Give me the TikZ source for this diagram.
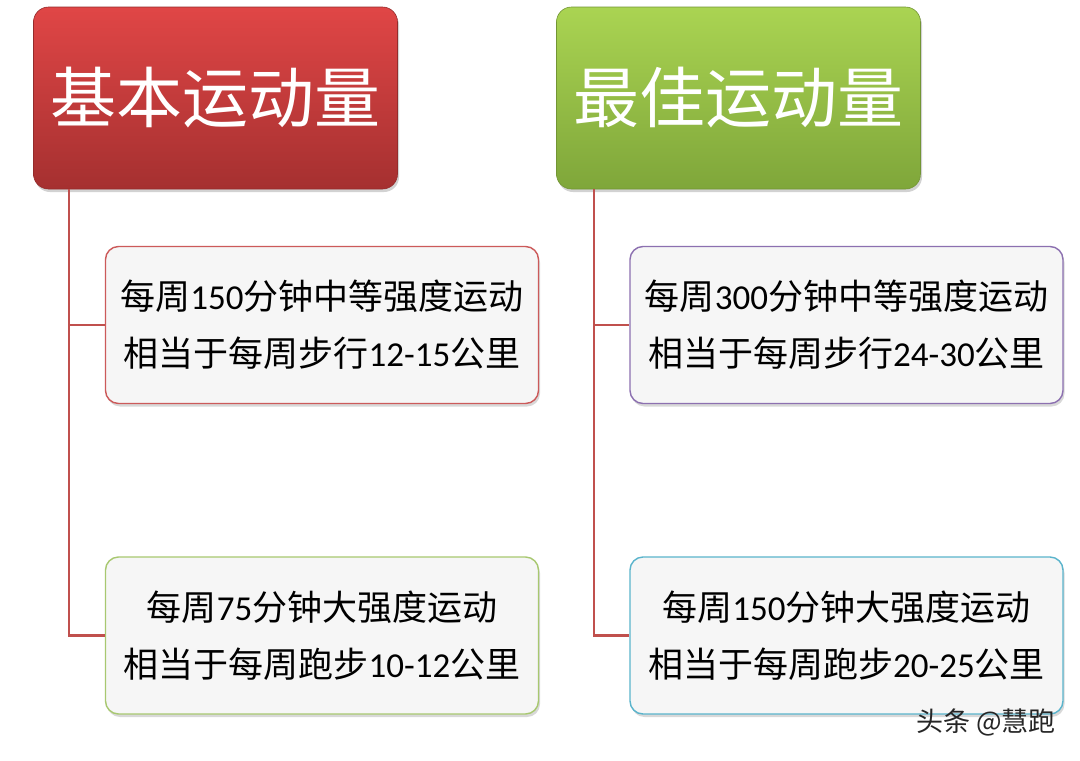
\documentclass[tikz,border=0pt]{standalone}
\usepackage{fontspec}
\setmainfont{Carlito}
\newfontfamily\cjk{Noto Sans CJK SC}
\usetikzlibrary{shadows}
\newcommand{\zh}[1]{{\cjk #1}}
\definecolor{conncol}{HTML}{C0504D}
\definecolor{redtop}{HTML}{E04646}
\definecolor{redbot}{HTML}{A53030}
\definecolor{grntop}{HTML}{AAD452}
\definecolor{grnbot}{HTML}{7FA63A}
\definecolor{bred}{HTML}{CC5A5A}
\definecolor{bgreen}{HTML}{A8C870}
\definecolor{bpurple}{HTML}{8C70B0}
\definecolor{bteal}{HTML}{5AB4CC}
\definecolor{childfill}{HTML}{F6F6F6}
\tikzset{
  header/.style={rounded corners=15pt, minimum width=364pt, minimum height=182pt,
    inner sep=0pt, text=white, font=\cjk\fontsize{66}{72}\selectfont,
    drop shadow={shadow xshift=1.5pt, shadow yshift=-3pt, opacity=0.35}},
  child/.style={rounded corners=13pt, minimum width=433pt, minimum height=157pt,
    inner sep=0pt, fill=childfill, line width=1.4pt, align=center, text=black,
    font=\fontsize{35}{57}\selectfont,
    drop shadow={shadow xshift=1.5pt, shadow yshift=-3pt, opacity=0.3}},
  conn/.style={draw=conncol, line width=2.5pt}
}
\begin{document}
\begin{tikzpicture}[x=1pt,y=-1pt]
\useasboundingbox[fill=white] (0,0) rectangle (1080,761);
% headers
\node[header, top color=redtop, bottom color=redbot, draw=redbot!90!black, line width=0.6pt] (h1) at (215.5,98) {基本运动量};
\node[header, top color=grntop, bottom color=grnbot, draw=grnbot!90!black, line width=0.6pt] (h2) at (738.5,98) {最佳运动量};
% children
\node[child, draw=bred] (a1) at (322,325) {\zh{每周}150\zh{分钟中等强度运动}\\\zh{相当于每周步行}12-15\zh{公里}};
\node[child, draw=bgreen] (b1) at (322,635.5) {\zh{每周}75\zh{分钟大强度运动}\\\zh{相当于每周跑步}10-12\zh{公里}};
\node[child, draw=bpurple] (a2) at (846.5,325) {\zh{每周}300\zh{分钟中等强度运动}\\\zh{相当于每周步行}24-30\zh{公里}};
\node[child, draw=bteal] (b2) at (846.5,635.5) {\zh{每周}150\zh{分钟大强度运动}\\\zh{相当于每周跑步}20-25\zh{公里}};
% connectors
\coordinate (j1) at (69,635.5);
\coordinate (j2) at (594,635.5);
\draw[conn] (h1.south -| j1) -- (j1) -- (b1.west);
\draw[conn] (a1.west -| j1) -- (a1.west);
\draw[conn] (h2.south -| j2) -- (j2) -- (b2.west);
\draw[conn] (a2.west -| j2) -- (a2.west);
% watermark
\node[text=black!85, font=\cjk\fontsize{27}{30}\selectfont, inner sep=0pt] (wm) at (986,722) {头条 @慧跑};
\end{tikzpicture}
\end{document}
